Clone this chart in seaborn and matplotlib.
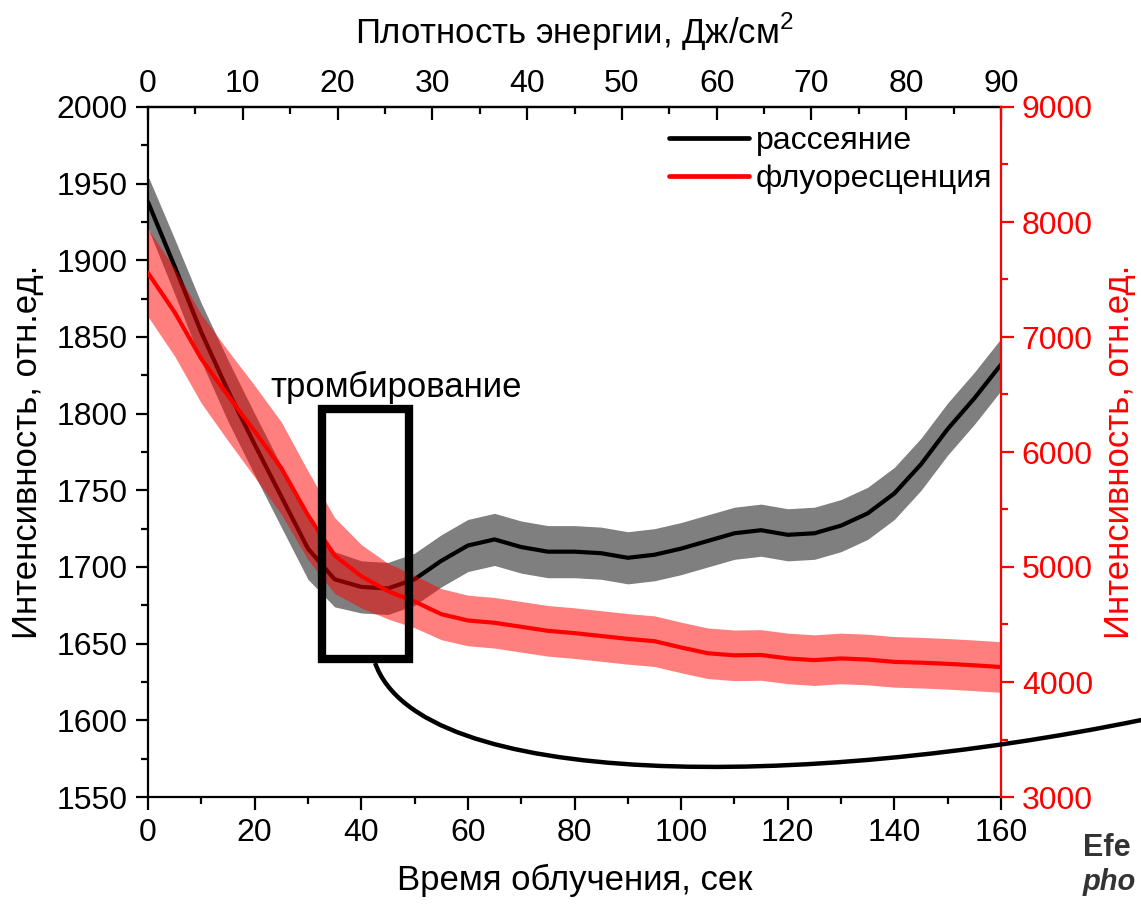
import numpy as np
import pandas as pd
import matplotlib
matplotlib.use("Agg")
import matplotlib.pyplot as plt
import seaborn as sns
from matplotlib.patches import Rectangle, PathPatch
from matplotlib.path import Path
from matplotlib.lines import Line2D
from matplotlib.ticker import MultipleLocator

# ---------------- data ----------------
time_s = [0, 5, 10, 15, 20, 25, 30, 35, 40, 45, 50, 55, 60, 65, 70, 75, 80,
          85, 90, 95, 100, 105, 110, 115, 120, 125, 130, 135, 140, 145, 150, 155, 160]
scatter = [1938, 1896, 1853, 1815, 1780, 1746, 1712, 1692, 1687, 1686, 1692, 1704,
           1714, 1718, 1713, 1710, 1710, 1709, 1706, 1708, 1712, 1717, 1722, 1724,
           1721, 1722, 1727, 1735, 1748, 1767, 1790, 1810, 1832]
scatter_err = [17, 18, 19, 20, 20, 20, 20, 18, 17, 17, 17, 17, 17, 17, 17, 17, 17,
               17, 17, 17, 17, 17, 17, 17, 17, 17, 17, 17, 17, 17, 17, 17, 17]
fluor = [7557, 7215, 6810, 6490, 6180, 5860, 5450, 5100, 4920, 4790, 4700, 4590,
         4535, 4515, 4480, 4445, 4425, 4400, 4375, 4355, 4300, 4250, 4232, 4235,
         4205, 4190, 4205, 4195, 4175, 4168, 4158, 4145, 4130]
fluor_err = [380, 382, 386, 392, 398, 402, 385, 330, 275, 242, 228, 222, 220, 220,
             220, 220, 220, 220, 220, 220, 220, 220, 220, 220, 220, 220, 220, 220,
             220, 220, 220, 220, 220]

left_ticks = [1550, 1600, 1650, 1700, 1750, 1800, 1850, 1900, 1950, 2000]
right_ticks = [3000, 4000, 5000, 6000, 7000, 8000, 9000]
bottom_ticks = [0, 20, 40, 60, 80, 100, 120, 140, 160]
top_ticks = [0, 10, 20, 30, 40, 50, 60, 70, 80, 90]

xlabel = "Время облучения, сек"
toplabel = "Плотность энергии, Дж/см$^2$"
ylabel = "Интенсивность, отн.ед."
labels = ["рассеяние", "флуоресценция"]
annot = "тромбирование"

df = pd.DataFrame({"t": time_s, "s": scatter, "se": scatter_err,
                   "f": fluor, "fe": fluor_err})

# ---------------- style ----------------
sns.set_theme(style="ticks")
plt.rcParams["font.family"] = ["Liberation Sans", "DejaVu Sans"]
plt.rcParams["axes.linewidth"] = 1.6
plt.rcParams["mathtext.fontset"] = "custom"
plt.rcParams["mathtext.rm"] = "Liberation Sans"
for k in ["text.color", "axes.labelcolor", "xtick.color", "ytick.color",
          "axes.edgecolor"]:
    plt.rcParams[k] = "black"

RED = "#ff0000"
TICK_FS = 23
LAB_FS = 25

fig = plt.figure(figsize=(11.41, 9.05), dpi=100)
ax = fig.add_axes([148 / 1141, 1 - 797 / 905, (1001 - 148) / 1141, (797 - 107) / 905])
ax2 = ax.twinx()

# scatter series (left axis)
ax.fill_between(df["t"], df["s"] - df["se"], df["s"] + df["se"],
                color="black", alpha=0.5, lw=0)
sns.lineplot(data=df, x="t", y="s", ax=ax, color="black", lw=3.0)

# fluorescence series (right axis)
ax2.fill_between(df["t"], df["f"] - df["fe"], df["f"] + df["fe"],
                 color=RED, alpha=0.5, lw=0)
sns.lineplot(data=df, x="t", y="f", ax=ax2, color=RED, lw=3.0)

ax.set_xlim(0, 160)
ax.set_ylim(1550, 2000)
ax2.set_ylim(3000, 9000)

ax.set_xticks(bottom_ticks)
ax.xaxis.set_minor_locator(MultipleLocator(10))
ax.set_yticks(left_ticks)
ax.yaxis.set_minor_locator(MultipleLocator(25))
ax2.set_yticks(right_ticks)
ax2.yaxis.set_minor_locator(MultipleLocator(500))

ax.set_xlabel(xlabel, fontsize=LAB_FS, va="center")
ax.xaxis.set_label_coords(0.5, -0.121)
ax.set_ylabel(ylabel, fontsize=LAB_FS, va="center")
ax.yaxis.set_label_coords(-0.141, 0.5)
ax2.set_ylabel(ylabel, fontsize=LAB_FS, color=RED, rotation=90, va="center")
ax2.yaxis.set_label_coords(1.139, 0.5)

ax.tick_params(axis="both", which="major", direction="out", length=9, width=1.6,
               labelsize=TICK_FS, colors="black", pad=6)
ax.tick_params(axis="both", which="minor", direction="out", length=5, width=1.6)
ax.tick_params(axis="x", top=False)
ax2.tick_params(axis="y", which="major", direction="out", length=9, width=1.6,
                labelsize=TICK_FS, colors=RED, pad=6)
ax2.tick_params(axis="y", which="minor", direction="out", length=5, width=1.6,
                colors=RED)
ax2.spines["right"].set_color(RED)
ax2.spines["right"].set_linewidth(1.6)
for sp in ["left", "top", "bottom"]:
    ax.spines[sp].set_visible(True)
    ax.spines[sp].set_color("black")
ax.spines["right"].set_visible(False)
ax2.spines["left"].set_visible(False)
ax2.spines["top"].set_visible(False)
ax2.spines["bottom"].set_visible(False)

# top axis (energy density)
sec = ax.secondary_xaxis("top", functions=(lambda t: t * 90 / 160, lambda e: e * 160 / 90))
sec.set_xticks(top_ticks)
sec.xaxis.set_minor_locator(MultipleLocator(5))
sec.tick_params(which="major", direction="in", length=9, width=1.6, labelsize=TICK_FS,
                pad=6, colors="black")
sec.tick_params(which="minor", direction="in", length=5, width=1.6)
sec.spines["top"].set_linewidth(1.6)
sec.set_xlabel(toplabel, fontsize=LAB_FS, labelpad=18)

# annotation: rectangle, text, connector curve
ax2.add_patch(Rectangle((32.6, 1640), 16.4, 163, fill=False, lw=6.0, ec="black",
                        transform=ax.transData, zorder=5))
ax2.text(46.5, 1817, annot, transform=ax.transData, fontsize=LAB_FS,
         ha="center", va="center", color="black", zorder=6)
verts = [(42.6, 1637.4), (51.0, 1554.6), (122.3, 1554.6), (186.3, 1600.2)]
path = Path(verts, [Path.MOVETO, Path.CURVE4, Path.CURVE4, Path.CURVE4])
ax2.add_patch(PathPatch(path, fill=False, lw=3.2, ec="black", transform=ax.transData,
                        clip_on=False, zorder=6))

# legend
handles = [Line2D([], [], color="black", lw=3.4), Line2D([], [], color=RED, lw=3.4)]
leg = ax2.legend(handles, labels, loc="upper right", bbox_to_anchor=(1.012, 1.0),
                 frameon=False, fontsize=TICK_FS, handlelength=2.5, handletextpad=0.2,
                 labelspacing=0.25, borderaxespad=0.2)
leg.set_zorder(10)

# cut-off slide text at the bottom right
fig.text(1083 / 1141, 1 - 848 / 905, "Efe", fontsize=22, fontweight="bold",
         color="#333333", ha="left", va="center")
fig.text(1083 / 1141, 1 - 882 / 905, "pho", fontsize=21, fontweight="bold",
         fontstyle="italic", color="#333333", ha="left", va="center")

fig.savefig("out.png", dpi=100)
